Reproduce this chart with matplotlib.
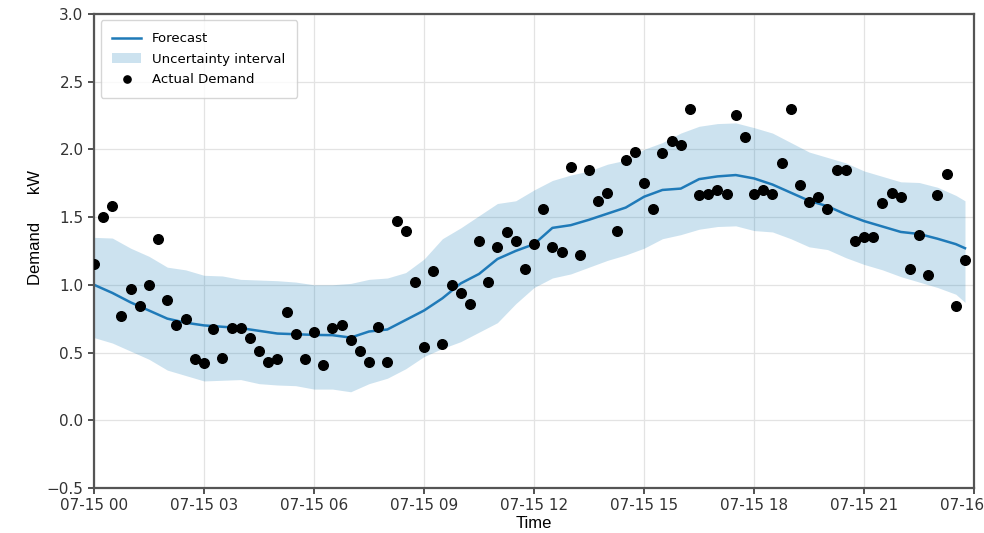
import numpy as np
import pandas as pd
import matplotlib
matplotlib.use('Agg')
import matplotlib.pyplot as plt
import matplotlib.dates as mdates

# actual demand, one reading every 15 minutes on 07-15 (kW)
actual_kw = [
    1.15, 1.50, 1.58, 0.77, 0.97, 0.84, 1.00, 1.34,
    0.89, 0.70, 0.75, 0.45, 0.42, 0.67, 0.46, 0.68,
    0.68, 0.61, 0.51, 0.43, 0.45, 0.80, 0.64, 0.45,
    0.65, 0.41, 0.68, 0.70, 0.59, 0.51, 0.43, 0.69,
    0.43, 1.47, 1.40, 1.02, 0.54, 1.10, 0.56, 1.00,
    0.94, 0.86, 1.32, 1.02, 1.28, 1.39, 1.32, 1.12,
    1.30, 1.56, 1.28, 1.24, 1.87, 1.22, 1.85, 1.62,
    1.68, 1.40, 1.92, 1.98, 1.75, 1.56, 1.97, 2.06,
    2.03, 2.30, 1.66, 1.67, 1.70, 1.67, 2.25, 2.09,
    1.67, 1.70, 1.67, 1.90, 2.30, 1.74, 1.61, 1.65,
    1.56, 1.85, 1.85, 1.32, 1.35, 1.35, 1.60, 1.68,
    1.65, 1.12, 1.37, 1.07, 1.66, 1.82, 0.84, 1.18,
]

# forecast and interval, half-hourly plus the last quarter hour
fc_hours = list(np.arange(0, 24, 0.5)) + [23.75]
forecast = [
    1.00, 0.94, 0.87, 0.81, 0.75, 0.72, 0.70, 0.69, 0.68, 0.66,
    0.64, 0.635, 0.63, 0.628, 0.61, 0.655, 0.67, 0.74, 0.81, 0.90,
    1.01, 1.08, 1.19, 1.25, 1.30, 1.42, 1.44, 1.48, 1.525, 1.57,
    1.65, 1.70, 1.71, 1.78, 1.80, 1.81, 1.785, 1.74, 1.68, 1.62,
    1.58, 1.52, 1.47, 1.43, 1.39, 1.375, 1.34, 1.30, 1.27,
]
upper = [
    1.35, 1.345, 1.27, 1.21, 1.13, 1.11, 1.07, 1.065, 1.04, 1.035,
    1.03, 1.02, 1.00, 1.00, 1.01, 1.04, 1.05, 1.09, 1.19, 1.34,
    1.42, 1.51, 1.60, 1.62, 1.70, 1.77, 1.81, 1.84, 1.89, 1.92,
    2.00, 2.05, 2.12, 2.17, 2.19, 2.195, 2.16, 2.12, 2.05, 1.98,
    1.94, 1.90, 1.84, 1.80, 1.76, 1.755, 1.72, 1.66, 1.62,
]
lower = [
    0.61, 0.57, 0.51, 0.45, 0.37, 0.33, 0.29, 0.295, 0.30, 0.27,
    0.26, 0.255, 0.23, 0.23, 0.21, 0.27, 0.31, 0.38, 0.47, 0.53,
    0.58, 0.65, 0.72, 0.86, 0.98, 1.05, 1.08, 1.13, 1.18, 1.22,
    1.27, 1.34, 1.37, 1.41, 1.43, 1.435, 1.40, 1.39, 1.34, 1.28,
    1.26, 1.20, 1.15, 1.11, 1.06, 1.02, 0.98, 0.93, 0.87,
]

day = pd.Timestamp('2023-07-15')
t_actual = pd.date_range(day, periods=len(actual_kw), freq='15min')
t_fc = day + pd.to_timedelta(fc_hours, unit='h')

fig = plt.figure(figsize=(9.84, 5.33), dpi=100)
ax = fig.add_axes([0.0955, 0.0845, 0.8945, 0.8895])

ax.fill_between(t_fc, lower, upper, color='#0072B2', alpha=0.2,
                linewidth=0, label='Uncertainty interval')
ax.plot(t_fc, forecast, color='#1f7ab8', linewidth=1.8, label='Forecast')
ax.scatter(t_actual, actual_kw, s=48, color='black', zorder=3,
           label='Actual Demand')

ax.set_xlim(day, day + pd.Timedelta(hours=24))
ax.set_ylim(-0.5, 3.0)
ax.xaxis.set_major_locator(mdates.HourLocator(interval=3))
ax.xaxis.set_major_formatter(mdates.DateFormatter('%m-%d %H'))
ax.set_yticks(np.arange(-0.5, 3.01, 0.5))

ax.grid(True, color='#e3e3e3', linewidth=0.9)
ax.set_axisbelow(True)
for s in ax.spines.values():
    s.set_color('#555555')
    s.set_linewidth(1.6)
ax.tick_params(labelsize=11, colors='#333333', length=4, width=1.2)

ax.set_xlabel('Time', family='Liberation Sans', fontsize=12, labelpad=2)
ax.set_ylabel('Demand      kW', family='Liberation Sans', fontsize=12)
ax.yaxis.set_label_coords(-0.058, 0.55)

handles, labels = ax.get_legend_handles_labels()
order = [labels.index('Forecast'), labels.index('Uncertainty interval'),
         labels.index('Actual Demand')]
ax.legend([handles[i] for i in order], [labels[i] for i in order],
          loc='upper left', fontsize=9.5, borderpad=0.9, labelspacing=0.55,
          markerscale=0.75, handlelength=2.2)

fig.savefig('out.png', dpi=100)
